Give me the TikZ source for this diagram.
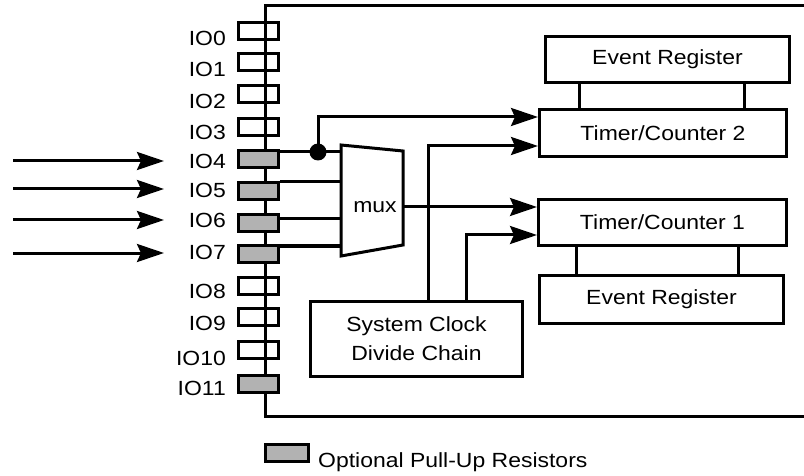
\documentclass[tikz,border=0pt]{standalone}
\usepackage{fontspec}
\setmainfont{Liberation Sans}[FakeStretch=1.12]
\usetikzlibrary{arrows.meta}
\definecolor{pullgrey}{RGB}{178,178,178}
\tikzset{
  lw/.style={line width=3pt},
  blk/.style={draw, lw, rectangle, inner sep=0pt, font=\fontsize{20.5}{29}\selectfont},
  iobox/.style={draw, lw, rectangle, minimum width=40pt, minimum height=17pt, inner sep=0pt},
  pullbox/.style={iobox, fill=pullgrey},
  iolab/.style={anchor=east, inner sep=0pt, font=\fontsize{20.5}{24}\selectfont},
  arr/.style={lw, -{Stealth[length=27pt,width=18pt,inset=4pt]}},
  wire/.style={lw},
}
\begin{document}
\begin{tikzpicture}[x=1pt,y=-1pt]
\useasboundingbox (0,0) rectangle (804,476);
% chip outline
\coordinate (otop) at (265,6);
\coordinate (otr) at (804,6);
\coordinate (obot) at (265,416);
\coordinate (obr) at (804,416);
\draw[wire] (otr) -- (otop) -- (obot) -- (obr);
% IO boxes
\node[iobox]   (io0)  at (258.5,31)  {};
\node[iobox]   (io1)  at (258.5,62)  {};
\node[iobox]   (io2)  at (258.5,94.5){};
\node[iobox]   (io3)  at (258.5,127) {};
\node[pullbox] (io4)  at (258.5,159) {};
\node[pullbox] (io5)  at (258.5,191) {};
\node[pullbox] (io6)  at (258.5,223) {};
\node[pullbox] (io7)  at (258.5,254) {};
\node[iobox]   (io8)  at (258.5,286) {};
\node[iobox]   (io9)  at (258.5,317) {};
\node[iobox]   (io10) at (258.5,350) {};
\node[pullbox] (io11) at (258.5,384) {};
% labels
\node[iolab] (l0)  at (226,38.5) {IO0};
\node[iolab] (l1)  at (226,69)   {IO1};
\node[iolab] (l2)  at (226,101)  {IO2};
\node[iolab] (l3)  at (226,132)  {IO3};
\node[iolab] (l4)  at (226,161)  {IO4};
\node[iolab] (l5)  at (226,190)  {IO5};
\node[iolab] (l6)  at (226,220)  {IO6};
\node[iolab] (l7)  at (226,252)  {IO7};
\node[iolab] (l8)  at (226,291)  {IO8};
\node[iolab] (l9)  at (226,323)  {IO9};
\node[iolab] (l10) at (226,358)  {IO10};
\node[iolab] (l11) at (226,388)  {IO11};
% input arrows
\coordinate (s4) at (13,161);  \coordinate (t4) at (164,161);
\coordinate (s5) at (13,189);  \coordinate (t5) at (164,189);
\coordinate (s6) at (13,220);  \coordinate (t6) at (164,220);
\coordinate (s7) at (13,253);  \coordinate (t7) at (164,253);
\draw[arr] (s4) -- (t4);
\draw[arr] (s5) -- (t5);
\draw[arr] (s6) -- (t6);
\draw[arr] (s7) -- (t7);
% mux
\coordinate (m1) at (341,145);
\coordinate (m2) at (403,151);
\coordinate (m3) at (403,245);
\coordinate (m4) at (341,256);
\draw[wire, line join=miter] (m1) -- (m2) -- (m3) -- (m4) -- cycle;
\node[font=\fontsize{20.5}{24}\selectfont, inner sep=0pt] (mux) at (375,207) {mux};
\coordinate (muxout) at (403,207);
% blocks
\node[blk, minimum width=244pt, minimum height=46pt] (er2) at (667.5,59.5) {Event Register};
\node[blk, minimum width=247pt, minimum height=47pt] (tc2) at (663,133) {Timer/Counter 2};
\node[blk, minimum width=248pt, minimum height=46pt] (tc1) at (662.5,222.5) {Timer/Counter 1};
\node[blk, minimum width=244pt, minimum height=48pt] (er1) at (661.5,299.5) {Event Register};
\node[blk, minimum width=212pt, minimum height=75pt, align=center] (clk) at (416.5,339) {System Clock\\Divide Chain};
% register links
\draw[wire] (er2.south -| 579,0) -- (tc2.north -| 579,0);
\draw[wire] (er2.south -| 744,0) -- (tc2.north -| 744,0);
\draw[wire] (tc1.south -| 576,0) -- (er1.north -| 576,0);
\draw[wire] (tc1.south -| 738,0) -- (er1.north -| 738,0);
% io to mux
\draw[wire] (io4.east |- 0,152) -- (m1 |- 0,152);
\draw[wire] (io5.east |- 0,182) -- (m1 |- 0,182);
\draw[wire] (io6.east |- 0,219) -- (m1 |- 0,219);
\draw[wire] (io7.east |- 0,246) -- (m1 |- 0,246);
% tap to TC2
\coordinate (tap) at (318,152);
\fill (tap) circle (8.5pt);
\draw[arr] (tap) |- (tc2.west |- 0,117);
% mux output
\draw[arr] (muxout) -- (tc1.west |- muxout);
% clock lines
\draw[arr] (clk.north -| 428,0) |- (tc2.west |- 0,146);
\draw[arr] (clk.north -| 466,0) |- (tc1.west |- 0,235);
% legend
\node[pullbox, minimum width=43pt, minimum height=17pt] (leg) at (287,452.5) {};
\node[anchor=base west, inner sep=0pt, font=\fontsize{20.5}{24}\selectfont] (legtext) at (318,467) {Optional Pull-Up Resistors};
\end{tikzpicture}
\end{document}
